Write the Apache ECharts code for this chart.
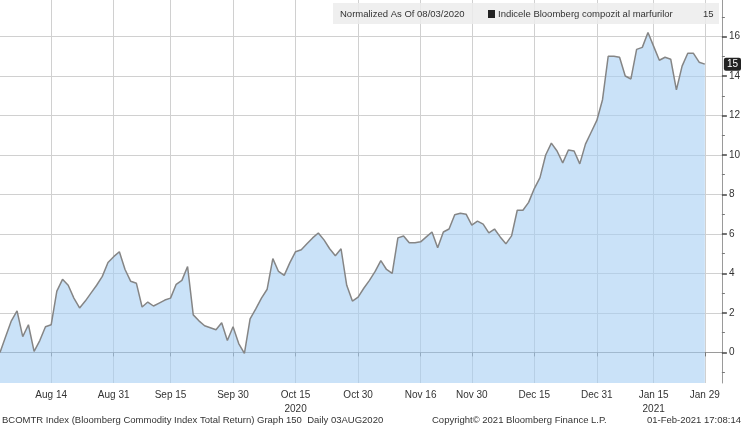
<!DOCTYPE html>
<html>
<head>
<meta charset="utf-8">
<script src="https://cdn.jsdelivr.net/npm/echarts@6/dist/echarts.min.js"></script>
<style>
html,body{margin:0;padding:0;background:#fff;}
#chart{width:743px;height:427px;}
</style>
</head>
<body>
<div id="chart"></div>
<script>
// Normalized index values (change since 08/03/2020), one per trading day
const aug2020 = [0,0.8,1.6,2.1,0.8,1.4,0.05,0.6,1.3,1.4,3.1,3.7,3.4,2.75,2.25,2.6,3.0,3.4,3.85,4.55,4.85];
const sep2020 = [5.1,4.2,3.6,3.5,2.3,2.55,2.35,2.5,2.65,2.75,3.45,3.65,4.35,1.9,1.6,1.35,1.25,1.15,1.5,0.6,1.3];
const oct2020 = [0.45,-0.05,1.7,2.2,2.75,3.2,4.75,4.1,3.9,4.55,5.1,5.2,5.5,5.8,6.05,5.7,5.25,4.9,5.25,3.4,2.6,2.8];
const nov2020 = [3.25,3.65,4.1,4.65,4.2,4.0,5.8,5.9,5.55,5.55,5.6,5.85,6.1,5.3,6.1,6.25,6.97,7.05,7.0,6.45];
const dec2020 = [6.65,6.5,6.05,6.25,5.85,5.5,5.9,7.2,7.2,7.6,8.3,8.85,10.0,10.6,10.2,9.6,10.25,10.2,9.55,10.55,11.15,11.75];
const jan2021 = [12.8,15.0,15.0,14.95,14.0,13.85,15.35,15.45,16.2,15.5,14.8,14.95,14.85,13.3,14.5,15.15,15.15,14.7,14.6];

// Trading calendar
const startDate = '2020-08-03';
const endDate = '2021-02-03';
const holidays = ['2020-09-07','2020-11-26','2020-12-25','2021-01-01','2021-01-18'];

// X tick labels
const tickDates = ['2020-08-14','2020-08-31','2020-09-15','2020-09-30','2020-10-15','2020-10-30','2020-11-16','2020-11-30','2020-12-15','2020-12-31','2021-01-15','2021-01-29'];
const tickLabels = ['Aug 14','Aug 31','Sep 15','Sep 30','Oct 15\n2020','Oct 30','Nov 16','Nov 30','Dec 15','Dec 31','Jan 15\n2021','Jan 29'];

// Y tick labels
const yMajor = [0,2,4,6,8,10,12,14,16];
const yMinor = [-1,1,3,5,7,9,11,13,15,17];

const seriesName = 'Indicele Bloomberg compozit al marfurilor';
const headerLeft = 'Normalized As Of 08/03/2020';
const footerLeft = 'BCOMTR Index (Bloomberg Commodity Index Total Return) Graph 150  Daily 03AUG2020';
const footerMid = 'Copyright\u00A9 2021 Bloomberg Finance L.P.';
const footerRight = '01-Feb-2021 17:08:14';

const values = [].concat(aug2020, sep2020, oct2020, nov2020, dec2020, jan2021);

const dates = [];
(function(){
  let d = new Date(startDate + 'T00:00:00Z');
  const end = new Date(endDate + 'T00:00:00Z');
  while (d <= end) {
    const wd = d.getUTCDay();
    const s = d.toISOString().slice(0,10);
    if (wd !== 0 && wd !== 6 && holidays.indexOf(s) < 0) dates.push(s);
    d = new Date(d.getTime() + 86400000);
  }
})();
const data = dates.map((d,i) => i < values.length ? values[i] : null);
const lastVal = values[values.length-1];
const isTick = (i, v) => tickDates.indexOf(v) >= 0;

const FONT = '"Liberation Sans", Arial, sans-serif';
const chart = echarts.init(document.getElementById('chart'), null, {renderer:'canvas'});
chart.setOption({
  animation: false,
  backgroundColor: '#fff',
  grid: {left: 0, right: 20, top: 0, bottom: 44, containLabel: false},
  xAxis: {
    type: 'category',
    data: dates,
    boundaryGap: false,
    axisLine: {show: true, lineStyle: {color: '#9a9a9a', width: 1}},
    axisTick: {show: true, interval: isTick, length: 4, lineStyle: {color: '#777'}},
    axisLabel: {
      interval: isTick,
      color: '#333', fontSize: 10, fontFamily: FONT, margin: 5, lineHeight: 14,
      formatter: v => { const k = tickDates.indexOf(v); return k >= 0 ? tickLabels[k] : ''; }
    },
    splitLine: {show: true, interval: isTick, lineStyle: {color: '#d0d0d0', width: 1}}
  },
  yAxis: [{
    type: 'value',
    position: 'right',
    min: -1.55, max: 17.85,
    axisLine: {show: true, lineStyle: {color: '#9a9a9a'}},
    axisTick: {show: true, customValues: yMajor, length: 5, lineStyle: {color: '#444', width: 1.5}},
    axisLabel: {customValues: yMajor, color: '#333', fontSize: 10, fontFamily: FONT, margin: 7},
    splitLine: {show: true, lineStyle: {color: '#d0d0d0', width: 1}}
  },{
    type: 'value',
    position: 'right',
    min: -1.55, max: 17.85,
    axisLine: {show: false},
    axisTick: {show: true, customValues: yMinor, length: 3, lineStyle: {color: '#777'}},
    axisLabel: {show: false},
    splitLine: {show: false},
    axisPointer: {
      show: true,
      type: 'line',
      value: lastVal,
      status: 'show',
      triggerTooltip: false,
      lineStyle: {opacity: 0},
      label: {
        show: true,
        formatter: () => String(Math.round(lastVal)),
        color: '#fff', backgroundColor: '#222', borderRadius: 2,
        padding: [2, 3, 1, 3], fontSize: 10, fontFamily: FONT, margin: 2
      }
    }
  }],
  series: [{
    name: seriesName,
    type: 'line',
    data: data,
    symbol: 'none',
    smooth: false,
    connectNulls: false,
    lineStyle: {color: '#858585', width: 1.5},
    areaStyle: {color: '#a6cff3', opacity: 0.6, origin: 'start'}
  }],
  graphic: [
    {type: 'rect', shape: {x: 333, y: 3, width: 386, height: 21}, style: {fill: 'rgba(236,236,236,0.85)'}, z: 10},
    {type: 'text', x: 340, y: 14, style: {text: headerLeft, fill: '#333', font: '9.5px ' + FONT, verticalAlign: 'middle'}, z: 11},
    {type: 'rect', shape: {x: 488, y: 10, width: 7, height: 8}, style: {fill: '#222'}, z: 11},
    {type: 'text', x: 498, y: 14, style: {text: seriesName, fill: '#333', font: '9.5px ' + FONT, verticalAlign: 'middle'}, z: 11},
    {type: 'text', x: 703, y: 14, style: {text: String(Math.round(lastVal)), fill: '#333', font: '9.5px ' + FONT, verticalAlign: 'middle'}, z: 11},
    {type: 'text', x: 2, y: 420, style: {text: footerLeft, fill: '#333', font: '9.5px ' + FONT, verticalAlign: 'middle'}},
    {type: 'text', x: 432, y: 420, style: {text: footerMid, fill: '#333', font: '9.5px ' + FONT, verticalAlign: 'middle'}},
    {type: 'text', x: 741, y: 420, style: {text: footerRight, fill: '#333', font: '9.5px ' + FONT, verticalAlign: 'middle', align: 'right'}}
  ]
});
</script>
</body>
</html>
